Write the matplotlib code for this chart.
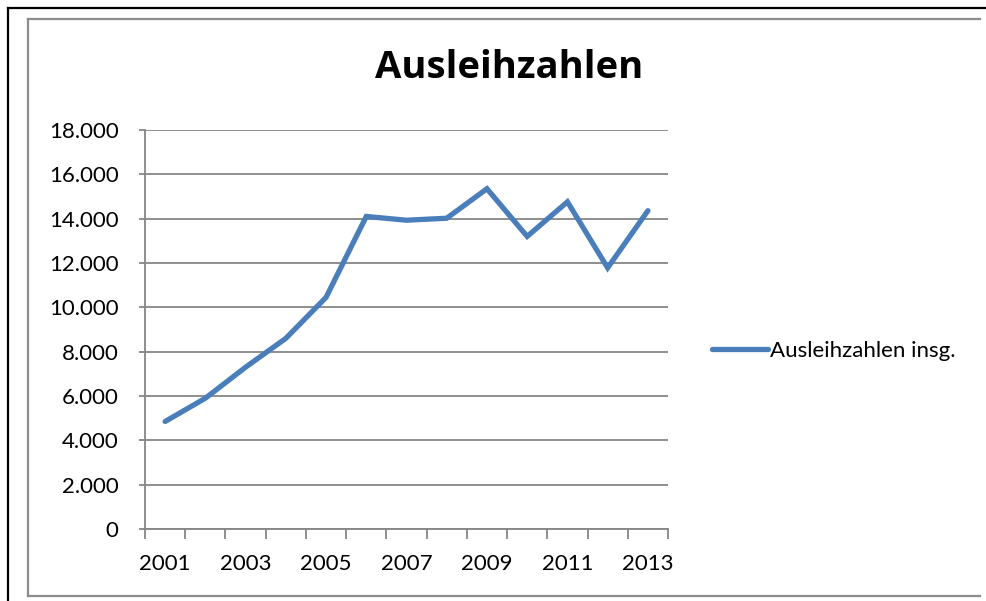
import matplotlib.pyplot as plt
from matplotlib.lines import Line2D

plt.rcParams['font.family'] = ['Lato', 'DejaVu Sans']

jahre = ['2001', '2002', '2003', '2004', '2005', '2006', '2007',
         '2008', '2009', '2010', '2011', '2012', '2013']
ausleihen = [4850, 5900, 7300, 8600, 10450, 14100, 13930,
             14020, 15350, 13200, 14760, 11780, 14360]
y_ticks = [0, 2000, 4000, 6000, 8000, 10000, 12000, 14000, 16000, 18000]

grau = '#868686'
blau = '#4a7ebb'

fig = plt.figure(figsize=(9.87, 6.01), dpi=100)
ax = fig.add_axes([145 / 987, 1 - 529 / 601, 523 / 987, 399 / 601])

x = list(range(len(jahre)))
ax.plot(x, ausleihen, color=blau, linewidth=3.8, solid_capstyle='round',
        solid_joinstyle='miter', label='Ausleihzahlen insg.', zorder=3)

ax.set_xlim(-0.5, len(jahre) - 0.5)
ax.set_ylim(0, 18000)

# y-Achse
ax.set_yticks(y_ticks)
ax.set_yticklabels([f'{v:,.0f}'.replace(',', '.') for v in y_ticks])
ax.yaxis.grid(True, color=grau, linewidth=1.3)
ax.set_axisbelow(True)
ax.tick_params(axis='y', length=4, width=1.3, color=grau, pad=15,
               labelsize=16, labelcolor='black')

# x-Achse: Striche zwischen den Kategorien, Beschriftung jedes 2. Jahr
ax.set_xticks([i - 0.5 for i in range(len(jahre) + 1)])
ax.set_xticklabels([])
ax.set_xticks(x[::2], minor=True)
ax.set_xticklabels(jahre[::2], minor=True)
ax.tick_params(axis='x', which='major', length=7, width=1.3, color=grau)
ax.tick_params(axis='x', which='minor', length=0, pad=18, labelsize=16)

for s in ['top', 'right']:
    ax.spines[s].set_visible(False)
for s in ['left', 'bottom']:
    ax.spines[s].set_color(grau)
    ax.spines[s].set_linewidth(1.3)

fig.text(509 / 987, 1 - 68 / 601, 'Ausleihzahlen', ha='center', va='center',
         fontsize=27.5, fontweight='bold', family=['Open Sans', 'DejaVu Sans'])

fig.legend(handles=[Line2D([], [], color=blau, linewidth=3.8, solid_capstyle='round')],
           labels=['Ausleihzahlen insg.'], loc='center left',
           bbox_to_anchor=(712 / 987, 1 - 351 / 601), frameon=False,
           fontsize=16, handlelength=2.5, handletextpad=0.1, borderpad=0,
           borderaxespad=0)

# Rahmen
W, H = 987, 601
def fx(p):
    return p / W
def fy(p):
    return 1 - p / H
fig.add_artist(Line2D([fx(8), fx(987)], [fy(8), fy(8)], color='black', linewidth=1.6))
fig.add_artist(Line2D([fx(8), fx(8)], [fy(8), fy(601)], color='black', linewidth=1.6))
fig.add_artist(Line2D([fx(28), fx(980)], [fy(19), fy(19)], color='#8c8c8c', linewidth=1.6))
fig.add_artist(Line2D([fx(28), fx(28)], [fy(19), fy(596)], color='#8c8c8c', linewidth=1.6))
fig.add_artist(Line2D([fx(28), fx(980)], [fy(596), fy(596)], color='#8c8c8c', linewidth=1.6))

plt.savefig('out.png', dpi=100)
